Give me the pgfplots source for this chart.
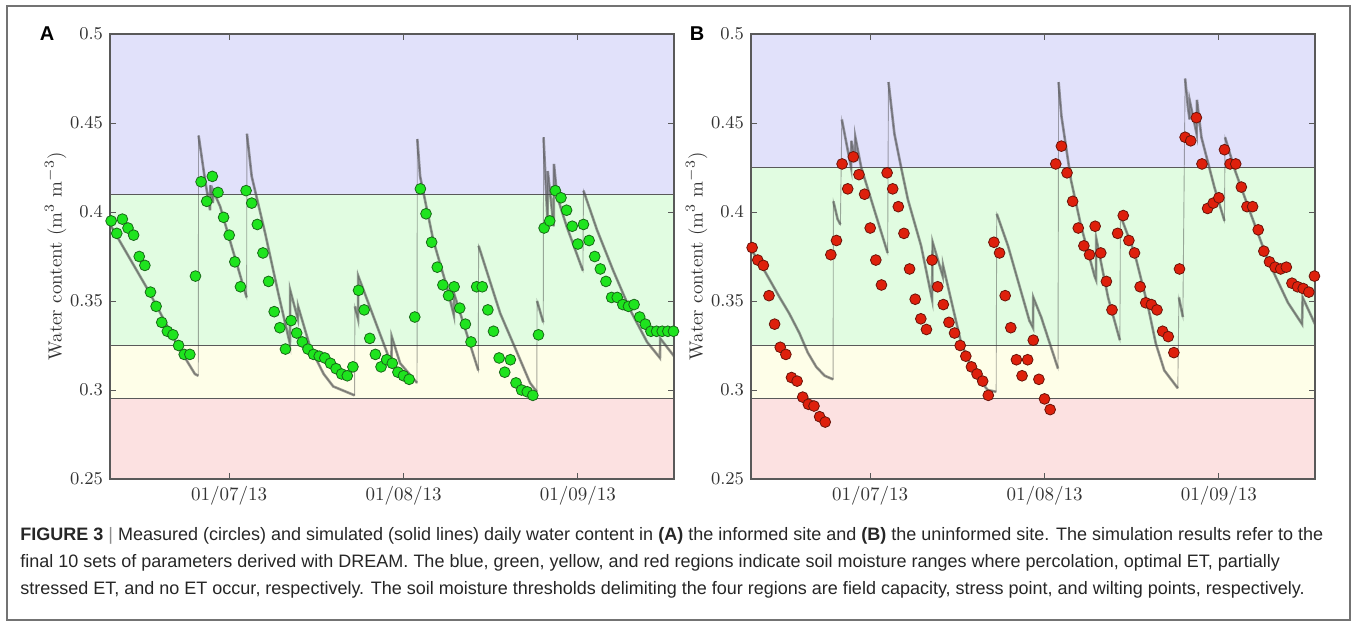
\documentclass[border=0pt]{standalone}
\usepackage{fontspec}
\usepackage{pgfplots}
\usepackage{pgfplotstable}
\pgfplotsset{compat=1.18}
\newfontfamily\capfont{Liberation Sans}

% region and point colours
\definecolor{percbg}{RGB}{225,225,250}
\definecolor{optbg}{RGB}{225,252,225}
\definecolor{stressbg}{RGB}{254,254,232}
\definecolor{nobg}{RGB}{252,225,225}
\definecolor{ptgreen}{RGB}{30,228,30}
\definecolor{ptgreenedge}{RGB}{25,105,25}
\definecolor{ptred}{RGB}{222,32,12}
\definecolor{ptrededge}{RGB}{105,20,10}

% measured water content, days from 01/07/13
\pgfplotstableread{
day wc
-21 0.395
-20 0.388
-19 0.396
-18 0.391
-17 0.387
-16 0.375
-15 0.370
-14 0.355
-13 0.347
-12 0.338
-11 0.333
-10 0.331
-9 0.325
-8 0.320
-7 0.320
-6 0.364
-5 0.417
-4 0.406
-3 0.420
-2 0.411
-1 0.397
0 0.387
1 0.372
2 0.358
3 0.412
4 0.405
5 0.393
6 0.377
7 0.361
8 0.344
9 0.335
10 0.323
11 0.339
12 0.332
13 0.327
14 0.323
15 0.320
16 0.319
17 0.318
18 0.315
19 0.312
20 0.309
21 0.308
22 0.313
23 0.356
24 0.345
25 0.329
26 0.320
27 0.313
28 0.317
29 0.315
30 0.310
31 0.308
32 0.306
33 0.341
34 0.413
35 0.399
36 0.383
37 0.369
38 0.359
39 0.353
40 0.358
41 0.346
42 0.337
43 0.327
44 0.358
45 0.358
46 0.345
47 0.333
48 0.318
49 0.310
50 0.317
51 0.304
52 0.300
53 0.299
54 0.297
55 0.331
56 0.391
57 0.395
58 0.412
59 0.408
60 0.401
61 0.392
62 0.382
63 0.393
64 0.384
65 0.375
66 0.368
67 0.361
68 0.352
69 0.352
70 0.348
71 0.347
72 0.348
73 0.341
74 0.337
75 0.333
76 0.333
77 0.333
78 0.333
79 0.333
}\measA

\pgfplotstableread{
day wc
-21 0.380
-20 0.373
-19 0.370
-18 0.353
-17 0.337
-16 0.324
-15 0.320
-14 0.307
-13 0.305
-12 0.296
-11 0.292
-10 0.291
-9 0.285
-8 0.282
-7 0.376
-6 0.384
-5 0.427
-4 0.413
-3 0.431
-2 0.421
-1 0.410
0 0.391
1 0.373
2 0.359
3 0.422
4 0.413
5 0.403
6 0.388
7 0.368
8 0.351
9 0.340
10 0.334
11 0.373
12 0.358
13 0.348
14 0.338
15 0.332
16 0.325
17 0.319
18 0.313
19 0.309
20 0.305
21 0.297
22 0.383
23 0.377
24 0.353
25 0.335
26 0.317
27 0.308
28 0.317
29 0.328
30 0.306
31 0.295
32 0.289
33 0.427
34 0.437
35 0.422
36 0.406
37 0.391
38 0.381
39 0.376
40 0.392
41 0.377
42 0.361
43 0.345
44 0.388
45 0.398
46 0.384
47 0.377
48 0.358
49 0.349
50 0.348
51 0.345
52 0.333
53 0.330
54 0.321
55 0.368
56 0.442
57 0.440
58 0.453
59 0.427
60 0.402
61 0.405
62 0.408
63 0.435
64 0.427
65 0.427
66 0.414
67 0.403
68 0.403
69 0.390
70 0.378
71 0.372
72 0.369
73 0.368
74 0.369
75 0.360
76 0.358
77 0.357
78 0.355
79 0.364
}\measB

% simulated runs (envelope); nan = jump after rain
\pgfplotstableread{
day wc
-21.0 0.392
-14.4 0.356
-9.0 0.324
-6.1 0.309
-5.5 0.308
nan nan
-5.45 0.443
-4.3 0.418
-3.4 0.401
-3.35 0.415
-2.9 0.405
-2.85 0.412
-1.6 0.403
0.5 0.380
3.1 0.352
nan nan
3.15 0.444
4.0 0.420
6.4 0.388
8.75 0.354
10.8 0.326
10.85 0.356
12.2 0.340
12.25 0.347
14.4 0.324
16.8 0.309
18.5 0.302
22.3 0.297
nan nan
22.35 0.347
22.9 0.340
22.95 0.364
28.3 0.319
28.85 0.317
28.9 0.330
30.4 0.315
33.4 0.304
nan nan
33.45 0.441
33.95 0.420
36.3 0.384
38.7 0.358
39.95 0.342
40.0 0.354
44.3 0.311
nan nan
44.35 0.381
48.2 0.343
51.2 0.321
53.5 0.304
54.7 0.299
nan nan
54.75 0.350
55.85 0.338
nan nan
55.9 0.442
56.6 0.395
56.65 0.423
57.7 0.392
57.75 0.427
58.3 0.409
60.0 0.392
62.9 0.367
nan nan
63.0 0.412
65.4 0.390
68.3 0.367
71.3 0.345
74.3 0.327
76.6 0.318
76.65 0.329
79.1 0.319
}\simA

\pgfplotstableread{
day wc
-21.0 0.378
-19.7 0.372
-17.9 0.362
-16.1 0.352
-14.4 0.343
-12.6 0.332
-11.1 0.321
-9.6 0.313
-8.1 0.308
-6.6 0.306
nan nan
-6.55 0.406
-5.8 0.396
-5.3 0.393
nan nan
-5.05 0.452
-3.4 0.425
-3.35 0.440
-2.7 0.428
-2.65 0.442
-1.6 0.425
0.75 0.401
3.1 0.377
nan nan
3.25 0.473
4.3 0.444
5.5 0.425
6.7 0.407
9.05 0.381
11.0 0.351
11.1 0.383
12.9 0.364
12.95 0.370
16.2 0.326
18.5 0.309
20.9 0.300
22.4 0.299
nan nan
22.5 0.399
24.5 0.381
28.3 0.339
28.95 0.335
29.0 0.352
30.4 0.341
33.4 0.312
nan nan
33.5 0.473
34.0 0.454
35.7 0.418
37.5 0.392
39.9 0.364
40.15 0.362
40.2 0.385
42.3 0.352
44.4 0.328
nan nan
44.5 0.398
47.0 0.377
49.4 0.347
50.8 0.326
52.3 0.311
54.7 0.301
nan nan
54.9 0.352
55.6 0.341
nan nan
56.0 0.475
56.5 0.459
56.8 0.452
56.85 0.462
58.05 0.444
58.1 0.463
58.9 0.442
61.2 0.414
63.0 0.395
nan nan
63.1 0.442
64.8 0.424
67.2 0.403
70.7 0.373
74.3 0.349
76.8 0.337
76.9 0.352
79.1 0.337
}\simB

\pgfplotsset{
  soilaxis/.style={
    scale only axis, width=282pt, height=222.5pt,
    anchor=north west,
    xmin=-21.2, xmax=79.1, ymin=0.25, ymax=0.5,
    xtick={0,31,62}, xticklabels={01/07/13,01/08/13,01/09/13},
    ytick={0.25,0.3,0.35,0.4,0.45,0.5},
    tick align=inside, major tick length=3pt,
    axis line style={draw=black!65, line width=0.6pt},
    tick style={black!65, line width=0.5pt},
    ticklabel style={font=\fontsize{9.5}{11}\selectfont, text=black!80},
    ylabel={Water content (m$^3$ m$^{-3}$)},
    ylabel style={font=\fontsize{9.5}{11}\selectfont, text=black!80},
    ylabel shift=-5pt,
    axis on top,
  },
  region/.style={fill=#1, draw=none},
  thresh/.style={draw=black!65, line width=0.5pt},
  simthin/.style={no marks, draw=black!75, draw opacity=0.45, line width=0.45pt, unbounded coords=discard},
  simthick/.style={no marks, draw=black!70, draw opacity=0.55, line width=1.3pt, unbounded coords=jump},
}

\begin{document}
\begin{tikzpicture}
\useasboundingbox (0,0) rectangle (678.5pt,-313.5pt);
\draw[black!55, line width=0.8pt] (3.5pt,-3pt) rectangle (675pt,-310pt);

% panel A: informed site
\begin{axis}[soilaxis, at={(55pt,-17pt)}]
\addplot[region=percbg] coordinates {(-21.2,0.41) (79.1,0.41) (79.1,0.5) (-21.2,0.5)} -- cycle;
\addplot[region=optbg] coordinates {(-21.2,0.325) (79.1,0.325) (79.1,0.41) (-21.2,0.41)} -- cycle;
\addplot[region=stressbg] coordinates {(-21.2,0.295) (79.1,0.295) (79.1,0.325) (-21.2,0.325)} -- cycle;
\addplot[region=nobg] coordinates {(-21.2,0.25) (79.1,0.25) (79.1,0.295) (-21.2,0.295)} -- cycle;
\addplot[thresh] coordinates {(-21.2,0.41) (79.1,0.41)};
\addplot[thresh] coordinates {(-21.2,0.325) (79.1,0.325)};
\addplot[thresh] coordinates {(-21.2,0.295) (79.1,0.295)};
\addplot[simthin] table[x=day, y=wc] {\simA};
\addplot[simthick] table[x=day, y=wc] {\simA};
\addplot[only marks, mark=*, mark size=2.7pt,
  mark options={fill=ptgreen, draw=ptgreenedge, line width=0.4pt}]
  table[x=day, y=wc] {\measA};
\end{axis}

% panel B: uninformed site
\begin{axis}[soilaxis, at={(375.5pt,-17pt)}]
\addplot[region=percbg] coordinates {(-21.2,0.425) (79.1,0.425) (79.1,0.5) (-21.2,0.5)} -- cycle;
\addplot[region=optbg] coordinates {(-21.2,0.325) (79.1,0.325) (79.1,0.425) (-21.2,0.425)} -- cycle;
\addplot[region=stressbg] coordinates {(-21.2,0.295) (79.1,0.295) (79.1,0.325) (-21.2,0.325)} -- cycle;
\addplot[region=nobg] coordinates {(-21.2,0.25) (79.1,0.25) (79.1,0.295) (-21.2,0.295)} -- cycle;
\addplot[thresh] coordinates {(-21.2,0.425) (79.1,0.425)};
\addplot[thresh] coordinates {(-21.2,0.325) (79.1,0.325)};
\addplot[thresh] coordinates {(-21.2,0.295) (79.1,0.295)};
\addplot[simthin] table[x=day, y=wc] {\simB};
\addplot[simthick] table[x=day, y=wc] {\simB};
\addplot[only marks, mark=*, mark size=2.7pt,
  mark options={fill=ptred, draw=ptrededge, line width=0.4pt}]
  table[x=day, y=wc] {\measB};
\end{axis}

\node[font=\capfont\bfseries\fontsize{10}{12}\selectfont] at (23.5pt,-17pt) {A};
\node[font=\capfont\bfseries\fontsize{10}{12}\selectfont] at (348.5pt,-17pt) {B};

% caption
\begin{scope}[every node/.style={anchor=base west, inner sep=0pt, text=black!85,
    font=\capfont\fontsize{9}{11}\selectfont}]
\node at (10pt,-270pt) {\textbf{FIGURE 3} {\color{black!45}|} Measured (circles) and simulated (solid lines) daily water content in \textbf{(A)} the informed site and \textbf{(B)} the uninformed site. The simulation results refer to the};
\node at (10pt,-283.5pt) {final 10 sets of parameters derived with DREAM. The blue, green, yellow, and red regions indicate soil moisture ranges where percolation, optimal ET, partially};
\node at (10pt,-297pt) {stressed ET, and no ET occur, respectively. The soil moisture thresholds delimiting the four regions are field capacity, stress point, and wilting points, respectively.};
\end{scope}
\end{tikzpicture}
\end{document}
